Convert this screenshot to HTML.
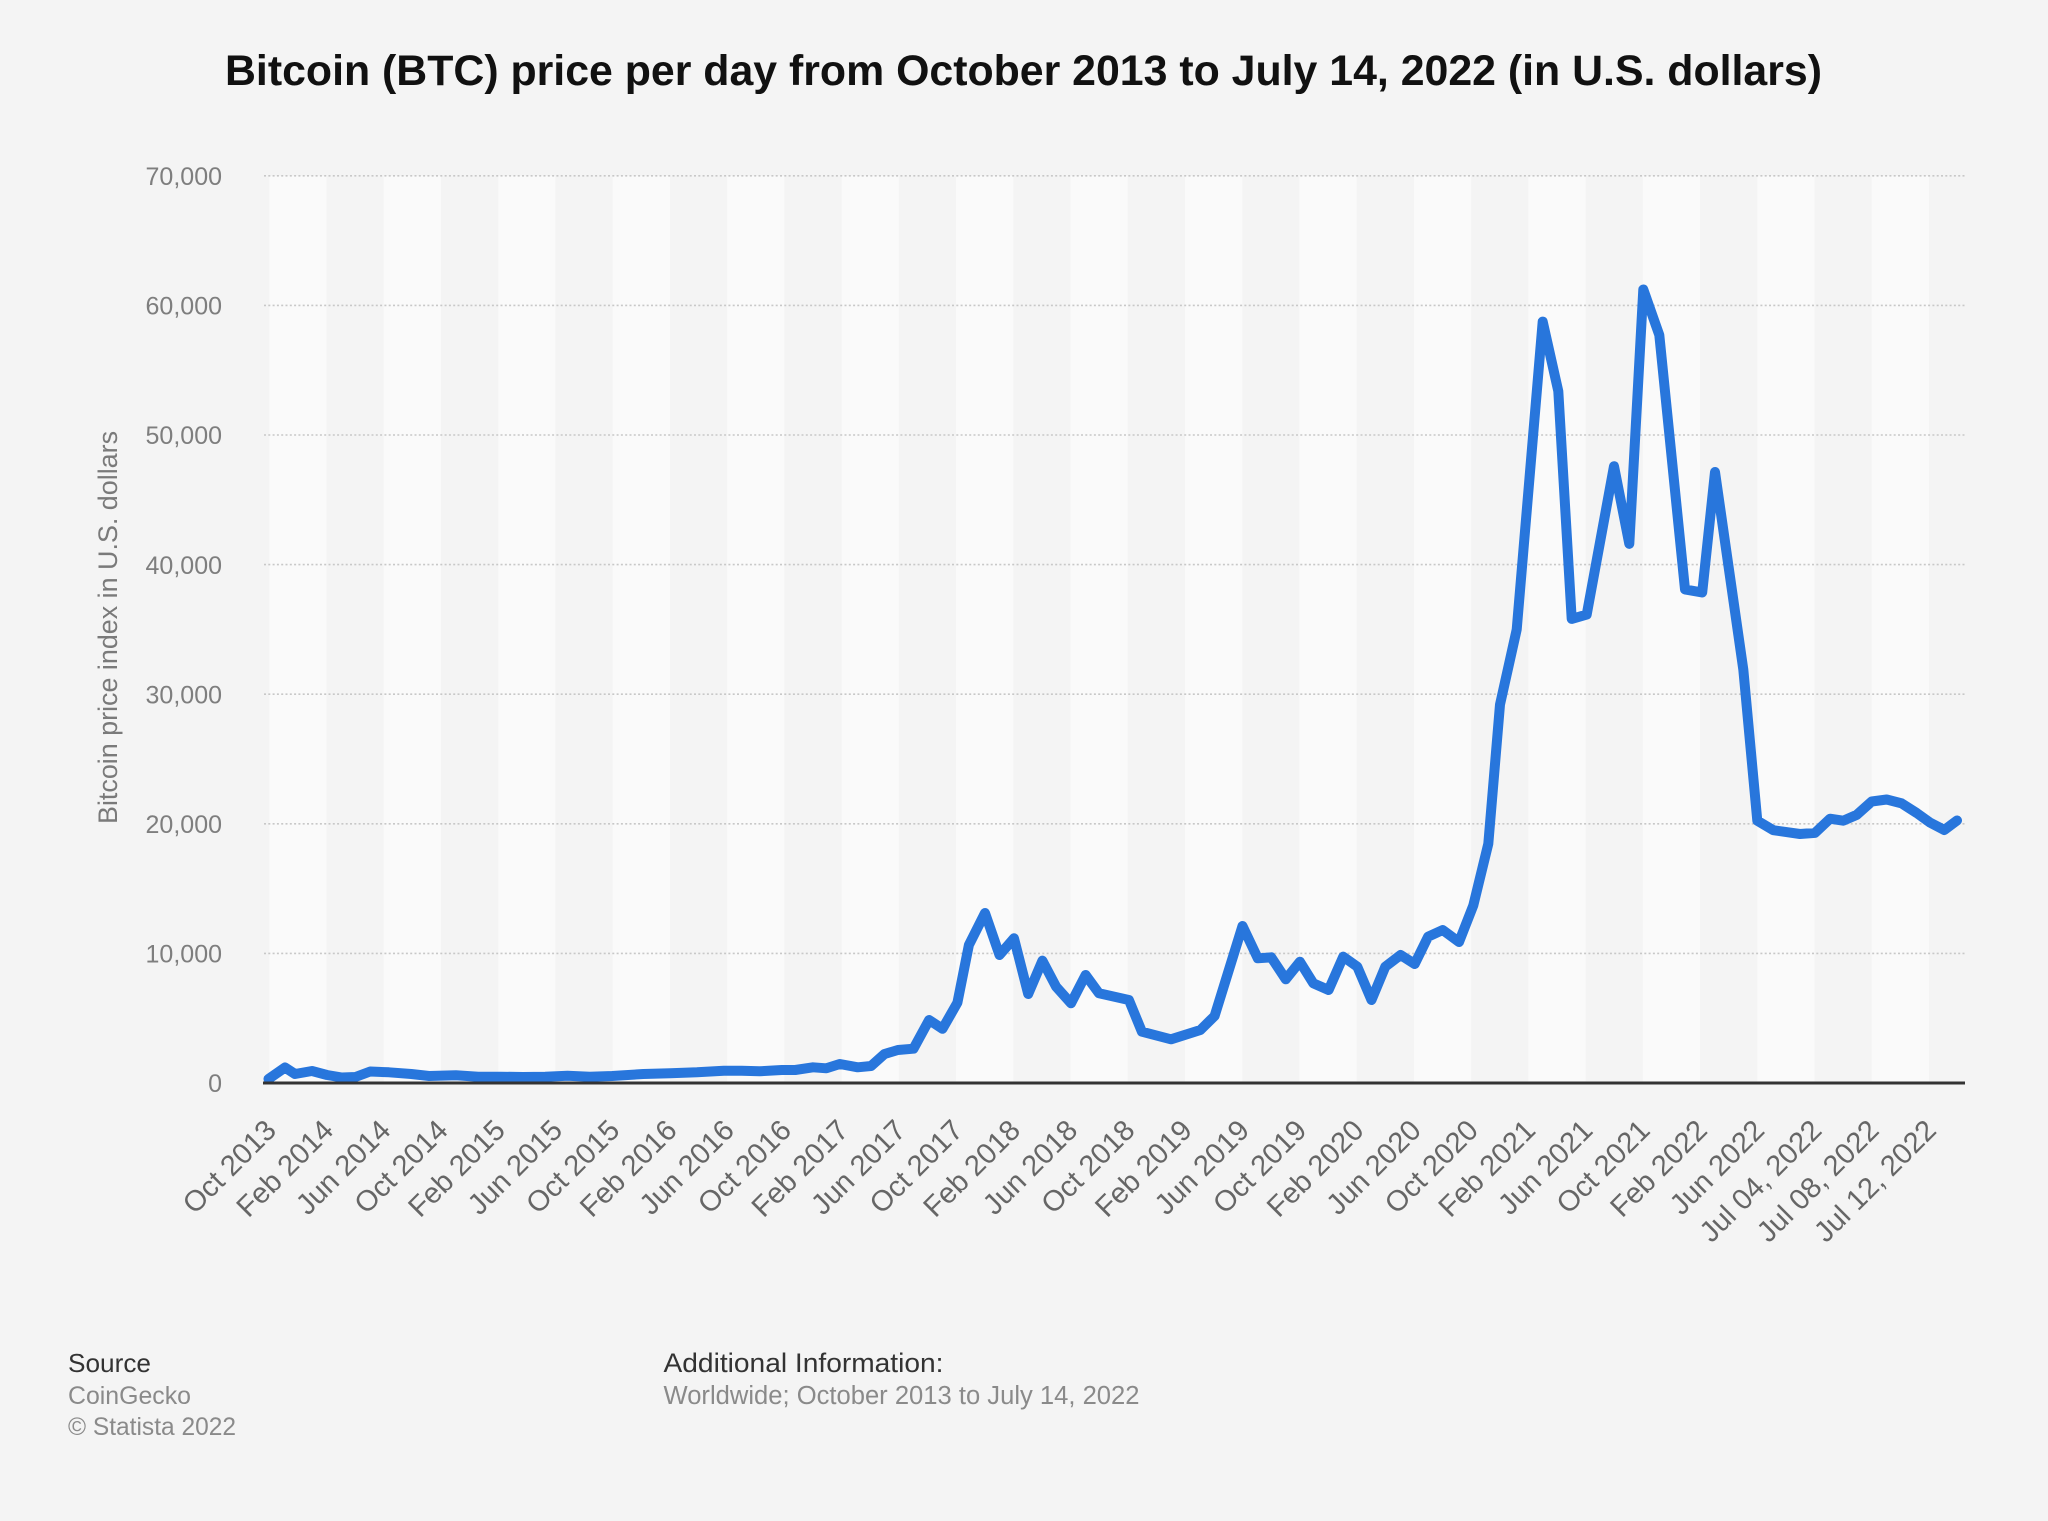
<!DOCTYPE html>
<html>
<head>
<meta charset="utf-8">
<style>
  html,body{margin:0;padding:0;background:#f4f4f4;}
  svg{display:block;}
  text{font-family:"Liberation Sans",Arial,Helvetica,sans-serif;}
</style>
</head>
<body>
<svg width="2048" height="1521" viewBox="0 0 2048 1521" xmlns="http://www.w3.org/2000/svg">
  <rect x="0" y="0" width="2048" height="1521" fill="#f4f4f4"/>

  <!-- Title -->
  <text x="1023.5" y="85" text-anchor="middle" font-size="42.8" font-weight="bold" fill="#111" textLength="1597" lengthAdjust="spacingAndGlyphs">Bitcoin (BTC) price per day from October 2013 to July 14, 2022 (in U.S. dollars)</text>

  <!-- Alternating bands -->
  <g fill="#fafafa">
    <rect x="269.3" y="176" width="57.23" height="907"/>
    <rect x="383.76" y="176" width="57.23" height="907"/>
    <rect x="498.22" y="176" width="57.23" height="907"/>
    <rect x="612.68" y="176" width="57.23" height="907"/>
    <rect x="727.14" y="176" width="57.23" height="907"/>
    <rect x="841.6" y="176" width="57.23" height="907"/>
    <rect x="956.06" y="176" width="57.23" height="907"/>
    <rect x="1070.52" y="176" width="57.23" height="907"/>
    <rect x="1184.98" y="176" width="57.23" height="907"/>
    <rect x="1299.44" y="176" width="57.23" height="907"/>
    <rect x="1413.9" y="176" width="57.23" height="907"/>
    <rect x="1528.36" y="176" width="57.23" height="907"/>
    <rect x="1642.82" y="176" width="57.23" height="907"/>
    <rect x="1757.28" y="176" width="57.23" height="907"/>
    <rect x="1871.74" y="176" width="57.23" height="907"/>
  </g>

  <!-- Grid lines -->
  <g stroke="#c8c8c8" stroke-width="1.6" stroke-dasharray="2 2.3">
    <line x1="264" y1="175.8" x2="1965" y2="175.8"/>
    <line x1="264" y1="305.4" x2="1965" y2="305.4"/>
    <line x1="264" y1="435" x2="1965" y2="435"/>
    <line x1="264" y1="564.6" x2="1965" y2="564.6"/>
    <line x1="264" y1="694.2" x2="1965" y2="694.2"/>
    <line x1="264" y1="823.8" x2="1965" y2="823.8"/>
    <line x1="264" y1="953.4" x2="1965" y2="953.4"/>
  </g>

  <!-- Y tick labels -->
  <g font-size="25" fill="#7e7e7e" text-anchor="end">
    <text x="222" y="185">70,000</text>
    <text x="222" y="314.6">60,000</text>
    <text x="222" y="444.2">50,000</text>
    <text x="222" y="573.8">40,000</text>
    <text x="222" y="703.4">30,000</text>
    <text x="222" y="833">20,000</text>
    <text x="222" y="962.6">10,000</text>
    <text x="222" y="1092">0</text>
  </g>

  <!-- Y axis title -->
  <text transform="translate(117,627.5) rotate(-90)" text-anchor="middle" font-size="26.5" fill="#7a7a7a" textLength="393" lengthAdjust="spacingAndGlyphs">Bitcoin price index in U.S. dollars</text>

  <!-- Data line -->
  <polyline fill="none" stroke="#2876dc" stroke-width="10" stroke-linejoin="round" stroke-linecap="round" points="
    268.5,1079 285,1067.5 295,1074 312,1071 327,1075 342,1077.5 355.4,1077 370.2,1071.5 389,1072.3 411.3,1074 429.1,1076
    455.9,1075.3 478.2,1076.7 500.5,1076.7 522.9,1077 545.2,1076.7 567.5,1075.7 589.8,1076.7 612.1,1076 643.4,1074
    670.2,1073.3 697,1072.3 723.8,1070.7 741.6,1070.7 759.5,1071.3 781.8,1070 795.2,1070 813,1067.3 826.4,1068.3
    839.8,1064 857.7,1067.3 871.1,1066 884.5,1054 897.9,1050 913.5,1048.7 929.1,1020 942.5,1028.8 957.4,1002.7
    968.9,945 985,913 999.5,955 1014,938.3 1028.2,994 1042.4,960.7 1056.1,986.7 1071,1003.3 1085.6,975 1099,993.3
    1128.9,1000 1141.9,1031.7 1171,1039.3 1200.4,1030 1214.6,1016 1242.5,926 1257.8,958.3 1271.2,957.3 1285.8,979.3
    1299.9,961.7 1313.3,983.3 1328.6,990 1343.2,956.7 1357.3,966.7 1371.5,1000 1385.3,966.7 1400.6,955 1414.7,964
    1428.1,936.7 1442.7,930 1459,942 1473.3,905.4 1488.3,843.8 1500,704.6 1516.7,629.6 1542.7,321.6 1558.3,391.2
    1571.7,618.9 1586.7,614.6 1614,466.2 1629.3,543.9 1643.3,289.5 1659.3,335 1685,589.4 1702.2,592.5 1715,472
    1743.3,669.5 1757.3,820.7 1773.3,830.2 1800,834 1815,832.9 1830,818.7 1843.3,820.7 1856.7,814.9 1871.7,801.5
    1886.7,799.5 1901.7,803.4 1916.7,813 1930,822.6 1944.3,830 1957,820.5"/>

  <!-- X axis line -->
  <line x1="263" y1="1083" x2="1965" y2="1083" stroke="#333" stroke-width="3"/>

  <!-- X labels -->
  <g font-size="29" fill="#666" text-anchor="end">
    <text transform="translate(277.8,1132) rotate(-45)">Oct 2013</text>
    <text transform="translate(335.04,1132) rotate(-45)">Feb 2014</text>
    <text transform="translate(392.28,1132) rotate(-45)">Jun 2014</text>
    <text transform="translate(449.52,1132) rotate(-45)">Oct 2014</text>
    <text transform="translate(506.76,1132) rotate(-45)">Feb 2015</text>
    <text transform="translate(564,1132) rotate(-45)">Jun 2015</text>
    <text transform="translate(621.24,1132) rotate(-45)">Oct 2015</text>
    <text transform="translate(678.48,1132) rotate(-45)">Feb 2016</text>
    <text transform="translate(735.72,1132) rotate(-45)">Jun 2016</text>
    <text transform="translate(792.96,1132) rotate(-45)">Oct 2016</text>
    <text transform="translate(850.2,1132) rotate(-45)">Feb 2017</text>
    <text transform="translate(907.44,1132) rotate(-45)">Jun 2017</text>
    <text transform="translate(964.68,1132) rotate(-45)">Oct 2017</text>
    <text transform="translate(1021.92,1132) rotate(-45)">Feb 2018</text>
    <text transform="translate(1079.16,1132) rotate(-45)">Jun 2018</text>
    <text transform="translate(1136.4,1132) rotate(-45)">Oct 2018</text>
    <text transform="translate(1193.64,1132) rotate(-45)">Feb 2019</text>
    <text transform="translate(1250.88,1132) rotate(-45)">Jun 2019</text>
    <text transform="translate(1308.12,1132) rotate(-45)">Oct 2019</text>
    <text transform="translate(1365.36,1132) rotate(-45)">Feb 2020</text>
    <text transform="translate(1422.6,1132) rotate(-45)">Jun 2020</text>
    <text transform="translate(1479.84,1132) rotate(-45)">Oct 2020</text>
    <text transform="translate(1537.08,1132) rotate(-45)">Feb 2021</text>
    <text transform="translate(1594.32,1132) rotate(-45)">Jun 2021</text>
    <text transform="translate(1651.56,1132) rotate(-45)">Oct 2021</text>
    <text transform="translate(1708.8,1132) rotate(-45)">Feb 2022</text>
    <text transform="translate(1766.04,1132) rotate(-45)">Jun 2022</text>
    <text transform="translate(1823.28,1132) rotate(-45)">Jul 04, 2022</text>
    <text transform="translate(1880.52,1132) rotate(-45)">Jul 08, 2022</text>
    <text transform="translate(1937.76,1132) rotate(-45)">Jul 12, 2022</text>
  </g>

  <!-- Footer -->
  <text x="68" y="1372" font-size="26" fill="#333" textLength="83" lengthAdjust="spacingAndGlyphs">Source</text>
  <text x="68" y="1404" font-size="25" fill="#8a8a8a" textLength="123" lengthAdjust="spacingAndGlyphs">CoinGecko</text>
  <text x="68" y="1435" font-size="25" fill="#8a8a8a" textLength="168" lengthAdjust="spacingAndGlyphs">© Statista 2022</text>
  <text x="663.5" y="1372" font-size="27" fill="#333" textLength="280" lengthAdjust="spacingAndGlyphs">Additional Information:</text>
  <text x="663.5" y="1404" font-size="25.5" fill="#8a8a8a" textLength="476" lengthAdjust="spacingAndGlyphs">Worldwide; October 2013 to July 14, 2022</text>
</svg>
</body>
</html>
